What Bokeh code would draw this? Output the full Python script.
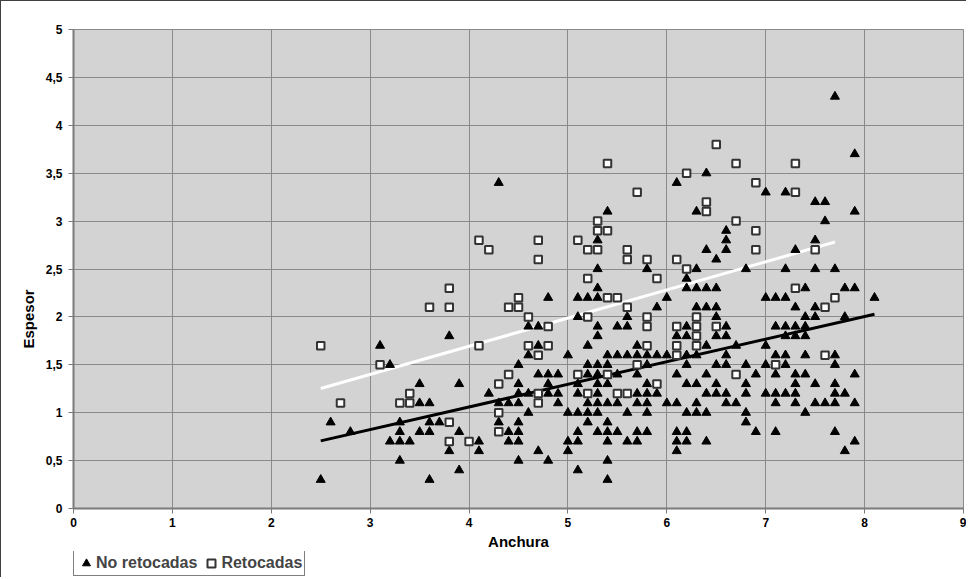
import numpy as np
from bokeh.plotting import figure
from bokeh.layouts import column
from bokeh.models import Range1d, FixedTicker, Legend, LegendItem, Title
from bokeh.embed import file_html
from bokeh.resources import INLINE

# ---- data: No retocadas (triangles) ----
no_ret = {
    2.5: [0.3], 2.6: [0.9], 2.8: [0.8], 3.1: [1.7], 3.2: [1.5, 0.7],
    3.3: [0.9, 0.8, 0.7, 0.5], 3.4: [0.7], 3.5: [1.3, 1.1, 0.8],
    3.6: [1.1, 0.9, 0.8, 0.3], 3.7: [0.9], 3.8: [1.8, 0.6], 3.9: [1.3, 0.8, 0.4],
    4.1: [0.7, 0.6], 4.2: [1.2], 4.3: [3.4, 1.1, 0.9], 4.4: [1.1, 0.8, 0.7],
    4.5: [1.5, 1.3, 1.2, 1.1, 0.9, 0.8, 0.7, 0.5], 4.6: [1.9, 1.6, 1.2, 1.0],
    4.7: [1.9, 1.7, 1.4, 0.6], 4.8: [2.2, 1.4, 1.3, 1.2, 0.5], 4.9: [1.4, 1.2, 1.1],
    5.0: [1.6, 1.0, 0.7, 0.6], 5.1: [2.2, 2.0, 1.3, 1.2, 1.0, 0.8, 0.7, 0.4],
    5.2: [2.2, 1.7, 1.5, 1.4, 1.1, 1.0, 0.9],
    5.3: [2.8, 2.5, 2.3, 2.2, 1.9, 1.8, 1.5, 1.4, 1.3, 1.2, 1.1, 1.0, 0.8],
    5.4: [3.1, 1.6, 1.5, 1.3, 1.1, 0.9, 0.8, 0.7, 0.5, 0.3],
    5.5: [1.9, 1.6, 1.4, 1.1, 0.8], 5.6: [2.0, 1.9, 1.6, 1.0, 0.7],
    5.7: [1.7, 1.6, 1.4, 1.2, 1.1, 0.8, 0.7],
    5.8: [2.5, 1.6, 1.5, 1.3, 1.2, 1.1, 1.0, 0.8], 5.9: [2.1, 1.6, 1.2],
    6.0: [2.2, 1.6, 1.1], 6.1: [3.4, 1.8, 1.4, 1.1, 0.8, 0.7, 0.6],
    6.2: [2.4, 2.3, 1.9, 1.8, 1.6, 1.5, 1.3, 1.0, 0.8, 0.7],
    6.3: [3.1, 2.5, 2.3, 2.1, 1.6, 1.3, 1.1, 1.0],
    6.4: [3.5, 2.7, 2.3, 2.1, 1.7, 1.4, 1.2, 1.0, 0.7],
    6.5: [2.6, 2.3, 2.1, 2.0, 1.8, 1.5, 1.3, 1.2],
    6.6: [2.9, 2.8, 2.7, 1.9, 1.8, 1.6, 1.5, 1.2, 1.1],
    6.7: [1.7, 1.1], 6.8: [2.5, 1.5, 1.3, 1.2, 1.0, 0.9], 6.9: [1.4, 0.8],
    7.0: [3.3, 2.2, 1.7, 1.5, 1.2], 7.1: [2.2, 1.9, 1.6, 1.4, 1.2, 1.1, 0.8],
    7.2: [3.3, 2.5, 2.2, 1.9, 1.8, 1.6, 1.5, 1.2],
    7.3: [2.7, 2.1, 1.9, 1.8, 1.4, 1.3, 1.2, 1.1],
    7.4: [2.3, 2.0, 1.9, 1.8, 1.6, 1.4, 1.0],
    7.5: [3.2, 2.8, 2.5, 2.1, 2.0, 1.3, 1.1], 7.6: [3.2, 3.0, 1.1],
    7.7: [4.3, 2.5, 1.6, 1.5, 1.3, 1.2, 1.1, 0.8], 7.8: [2.3, 2.0, 1.2, 0.6],
    7.9: [3.7, 3.1, 2.3, 1.4, 1.1, 0.7], 8.1: [2.2],
}

# ---- data: Retocadas (squares) ----
ret = {
    2.5: [1.7], 2.7: [1.1], 3.1: [1.5], 3.3: [1.1], 3.4: [1.2, 1.1], 3.6: [2.1],
    3.8: [2.3, 2.1, 0.9, 0.7], 4.0: [0.7], 4.1: [2.8, 1.7], 4.2: [2.7],
    4.3: [1.3, 1.0, 0.8], 4.4: [2.1, 1.4], 4.5: [2.2, 2.1], 4.6: [2.0, 1.7],
    4.7: [2.8, 2.6, 1.6, 1.2, 1.1], 4.8: [1.9, 1.7], 5.1: [2.8, 1.4],
    5.2: [2.7, 2.4, 2.0, 1.2], 5.3: [3.0, 2.9, 2.7], 5.4: [3.6, 2.9, 2.2, 1.4],
    5.5: [2.2, 1.2], 5.6: [2.7, 2.6, 2.1, 1.2], 5.7: [3.3, 1.5],
    5.8: [2.6, 2.0, 1.9, 1.7], 5.9: [2.4, 1.3], 6.1: [2.6, 1.9, 1.7, 1.6],
    6.2: [3.5, 2.5], 6.3: [2.0, 1.9, 1.8, 1.7], 6.4: [3.2, 3.1], 6.5: [3.8, 1.9],
    6.7: [3.6, 3.0, 1.4], 6.9: [3.4, 2.9, 2.7], 7.1: [1.5], 7.3: [3.6, 3.3, 2.3],
    7.5: [2.7], 7.6: [2.1, 1.6], 7.7: [2.2],
}

x_ticks = [0, 1, 2, 3, 4, 5, 6, 7, 8, 9]
y_ticks = [0, 0.5, 1, 1.5, 2, 2.5, 3, 3.5, 4, 4.5, 5]
y_tick_labels = ["0", "0,5", "1", "1,5", "2", "2,5", "3", "3,5", "4", "4,5", "5"]
series_labels = ["No retocadas", "Retocadas"]

def flat(d):
    xs, ys = [], []
    for k, vals in d.items():
        for v in vals:
            xs.append(k)
            ys.append(v)
    return np.array(xs), np.array(ys)

tx, ty = flat(no_ret)
sx, sy = flat(ret)

FONT = "Liberation Sans"
BORDER = "1px solid #404040"

TRI = dict(marker="triangle", size=9, fill_color="black", line_color="black", line_width=1)
SQ = dict(marker="square", size=7.5, fill_color="white", line_color="#333333", line_width=2)

# ---------------- main chart ----------------
p = figure(width=966, height=551, output_backend="svg", toolbar_location=None,
           x_range=Range1d(0, 9), y_range=Range1d(0, 5),
           min_border_left=72, min_border_right=4, min_border_top=28, min_border_bottom=44)
p.styles = {"border-top": BORDER, "border-left": BORDER}

p.background_fill_color = "#d3d3d3"
p.border_fill_color = "white"
p.outline_line_color = "#8a8a8a"

for ax in (p.xaxis[0], p.yaxis[0]):
    ax.axis_line_color = "#7a7a7a"
    ax.axis_line_width = 2
    ax.major_tick_line_color = "#7a7a7a"
    ax.major_tick_out = 5
    ax.major_tick_in = 0
    ax.minor_tick_line_color = None
    ax.major_label_text_font = FONT
    ax.major_label_text_font_style = "bold"
    ax.major_label_text_font_size = "12px"
    ax.major_label_text_color = "black"

p.xaxis.ticker = FixedTicker(ticks=x_ticks)
p.yaxis.ticker = FixedTicker(ticks=y_ticks)
p.yaxis.major_label_overrides = {float(t): l for t, l in zip(y_ticks, y_tick_labels)}
p.xaxis.major_label_standoff = 4
p.yaxis.major_label_standoff = 6

p.xaxis.axis_label = "Anchura"
p.xaxis.axis_label_text_font = FONT
p.xaxis.axis_label_text_font_style = "bold"
p.xaxis.axis_label_text_font_size = "15px"
p.xaxis.axis_label_text_color = "black"
p.xaxis.axis_label_standoff = 3

esp = Title(text="Espesor", align="left", offset=160, text_font=FONT,
            text_font_style="bold", text_font_size="15px", text_color="black", standoff=12)
p.add_layout(esp, "left")

p.xgrid.grid_line_color = "#8a8a8a"
p.ygrid.grid_line_color = "#8a8a8a"
p.xgrid.grid_line_width = 1
p.ygrid.grid_line_width = 1

# trend lines (least squares)
bt = np.polyfit(tx, ty, 1)
bs = np.polyfit(sx, sy, 1)
lx_t = np.array([tx.min(), tx.max()])
lx_s = np.array([sx.min(), sx.max()])
p.line(lx_t, np.polyval(bt, lx_t), line_color="black", line_width=3)
p.line(lx_s, np.polyval(bs, lx_s), line_color="white", line_width=3)

p.scatter(tx, ty, **TRI)
p.scatter(sx, sy, **SQ)

# ---------------- legend strip ----------------
# same series, drawn into a range where they are out of view; only their legend shows
q = figure(width=966, height=26, output_backend="svg", toolbar_location=None,
           x_range=Range1d(0, 9), y_range=Range1d(-20, -10),
           x_axis_location=None, y_axis_location=None,
           min_border_left=0, min_border_right=0, min_border_top=0, min_border_bottom=0)
q.styles = {"border-left": BORDER}
q.background_fill_color = "white"
q.border_fill_color = "white"
q.outline_line_color = None
q.xgrid.visible = False
q.ygrid.visible = False
lt = q.scatter(tx, ty, **TRI)
ls = q.scatter(sx, sy, **SQ)

legend = Legend(items=[LegendItem(label=series_labels[0], renderers=[lt]),
                       LegendItem(label=series_labels[1], renderers=[ls])],
                orientation="horizontal", location=(0, 1))
legend.label_text_font = FONT
legend.label_text_font_style = "bold"
legend.label_text_font_size = "16px"
legend.border_line_color = "black"
legend.border_line_width = 1
legend.background_fill_color = "white"
legend.background_fill_alpha = 1
legend.glyph_width = 20
legend.glyph_height = 20
legend.label_height = 18
legend.label_standoff = 0
legend.spacing = 4
legend.padding = 2
legend.margin = 0
q.add_layout(legend)

layout = column(p, q, spacing=0)
open("out.html", "w").write(file_html(layout, INLINE))
